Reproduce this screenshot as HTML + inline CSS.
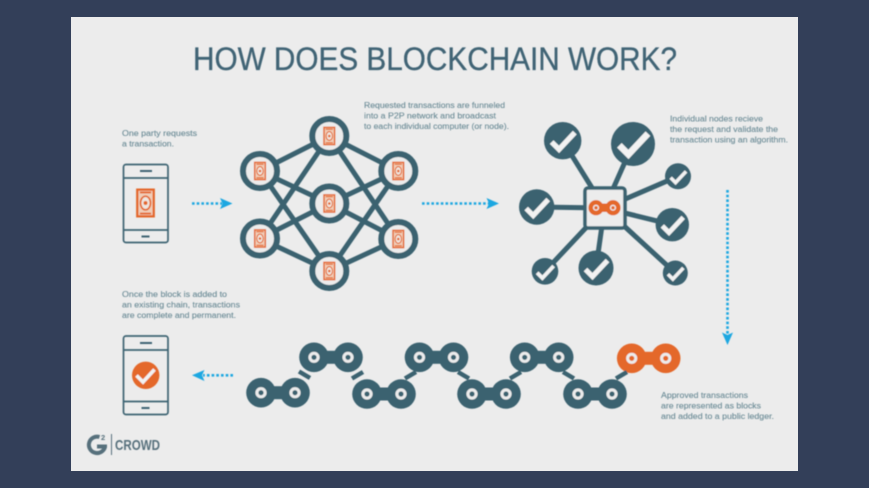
<!DOCTYPE html>
<html><head><meta charset="utf-8"><style>
html,body{margin:0;padding:0;background:#333f59;width:869px;height:488px;overflow:hidden}
svg{display:block}
text{font-family:"Liberation Sans",sans-serif}
.t{font-size:8.6px;fill:#6b8b96;stroke:#6b8b96;stroke-width:.12}
</style></head><body>
<svg width="869" height="488" viewBox="0 0 869 488" xmlns="http://www.w3.org/2000/svg">
<defs>
<g id="bill"><rect x="-5.3" y="-8.6" width="10.6" height="17.2" fill="#f0cdb8" stroke="#e4682b" stroke-width="1.5"/><path d="M-3.6 -6.8H3.6M-3.6 6.8H3.6" stroke="#e4682b" stroke-width="1.2"/><ellipse rx="3.2" ry="4.4" fill="#efe6df" stroke="#e4682b" stroke-width="1.1"/><circle r="1.3" fill="#e4682b"/></g>
<path id="ck" d="M-10.5 1 L-3.5 8 L11.5 -8" fill="none" stroke="#f2f2f2" stroke-width="5"/>
<g id="lk"><circle cx="-17" r="14.8"/><circle cx="17" r="14.8"/><rect x="-17" y="-6.5" width="34" height="13"/></g>
<g id="hl"><circle cx="-17" r="4.1" fill="none" stroke="#ececec" stroke-width="3"/><circle cx="17" r="4.1" fill="none" stroke="#ececec" stroke-width="3"/></g>
<filter id="b" x="-5%" y="-5%" width="110%" height="110%"><feGaussianBlur stdDeviation="0.4"/></filter>
</defs>
<rect x="71" y="17" width="727" height="454" fill="#ececec"/>
<g filter="url(#b)">
<text x="193" y="70" font-size="32" fill="#3f6375" stroke="#3f6375" stroke-width=".3" textLength="484" lengthAdjust="spacingAndGlyphs">HOW DOES BLOCKCHAIN WORK?</text>

<text class="t" x="122" y="136" textLength="75" lengthAdjust="spacingAndGlyphs">One party requests</text>
<text class="t" x="122" y="146.5" textLength="52" lengthAdjust="spacingAndGlyphs">a transaction.</text>
<text class="t" x="364" y="108" textLength="141" lengthAdjust="spacingAndGlyphs">Requested transactions are funneled</text>
<text class="t" x="364" y="118.5" textLength="132" lengthAdjust="spacingAndGlyphs">into a P2P network and broadcast</text>
<text class="t" x="364" y="129" textLength="145" lengthAdjust="spacingAndGlyphs">to each individual computer (or node).</text>
<text class="t" x="670" y="121.5" textLength="93" lengthAdjust="spacingAndGlyphs">Individual nodes recieve</text>
<text class="t" x="670" y="132" textLength="108" lengthAdjust="spacingAndGlyphs">the request and validate the</text>
<text class="t" x="670" y="142.5" textLength="118" lengthAdjust="spacingAndGlyphs">transaction using an algorithm.</text>
<text class="t" x="122" y="297" textLength="105" lengthAdjust="spacingAndGlyphs">Once the block is added to</text>
<text class="t" x="122" y="307.5" textLength="118" lengthAdjust="spacingAndGlyphs">an existing chain,  transactions</text>
<text class="t" x="122" y="318" textLength="114" lengthAdjust="spacingAndGlyphs">are complete and permanent.</text>
<text class="t" x="661" y="398" textLength="87" lengthAdjust="spacingAndGlyphs">Approved transactions</text>
<text class="t" x="661" y="408.5" textLength="100" lengthAdjust="spacingAndGlyphs">are represented as blocks</text>
<text class="t" x="661" y="419" textLength="113" lengthAdjust="spacingAndGlyphs">and added to a public ledger.</text>

<!-- phones -->
<g fill="none" stroke="#3d6472" stroke-width="1.7">
<rect x="123.5" y="164.5" width="44.5" height="78" rx="2.5"/>
<path d="M123.5 178H168M123.5 230H168"/>
<path d="M140 171H152M141.5 236.5H149.5" stroke-width="2"/>
<rect x="123.5" y="336" width="44.5" height="78.5" rx="2.5"/>
<path d="M123.5 350H168M123.5 401.5H168"/>
<path d="M140 343H152M141.5 408H149.5" stroke-width="2"/>
</g>
<g transform="translate(145.5 203) scale(1.55)"><use href="#bill"/></g>

<circle cx="145.7" cy="375.3" r="13.7" fill="#e4682b"/>
<path d="M136.5 375.5 L143 382 L154.5 369.5" fill="none" stroke="#f2f2f2" stroke-width="3.6"/>

<!-- arrows -->
<g fill="none" stroke="#1ea7e1" stroke-width="2.6" stroke-dasharray="2.6 2.1">
<path d="M192 203.5H222"/><path d="M422 203.5H489"/><path d="M727.5 190V334"/><path d="M233 375.3H203"/>
</g>
<g fill="#1ea7e1">
<path d="M220 198L232.5 203.5L220 209L222.5 203.5Z"/>
<path d="M486.5 198L499 203.5L486.5 209L489 203.5Z"/>
<path d="M722 332.5L727.5 345L733 332.5L727.5 335Z"/>
<path d="M204.5 370L192 375.3L204.5 381L202 375.3Z"/>
</g>

<!-- network -->
<g stroke="#3a6270" stroke-width="5" fill="none">
<path d="M329.3 136L260 171M329.3 136L398.3 171M329.3 136L260 238.5M329.3 136L398.3 239M260 171L329.3 203.5M398.3 171L329.3 203.5M260 238.5L329.3 203.5M398.3 239L329.3 203.5M260 171L329.3 271M398.3 171L329.3 271M260 238.5L329.3 271M398.3 239L329.3 271"/>
</g>
<g fill="#ececec" stroke="#3a6270" stroke-width="6">
<circle cx="329.3" cy="136" r="17"/><circle cx="260" cy="171" r="17"/><circle cx="398.3" cy="171" r="17"/><circle cx="329.3" cy="203.5" r="17"/><circle cx="260" cy="238.5" r="17"/><circle cx="398.3" cy="239" r="17"/><circle cx="329.3" cy="271" r="17"/>
</g>
<use href="#bill" x="329.3" y="136"/><use href="#bill" x="260" y="171"/><use href="#bill" x="398.3" y="171"/><use href="#bill" x="329.3" y="203.5"/><use href="#bill" x="260" y="238.5"/><use href="#bill" x="398.3" y="239"/><use href="#bill" x="329.3" y="271"/>

<!-- hub -->
<g stroke="#3a6270" stroke-width="5" fill="none">
<path d="M604.5 208L562.7 140.7M604.5 208L633 144M604.5 208L678 176.3M604.5 208L672.3 224.7M604.5 208L675.3 273M604.5 208L596 268M604.5 208L545 271.3M604.5 208L536.7 207"/>
</g>
<rect x="585" y="188" width="40" height="40" rx="3" fill="#ececec" stroke="#3a6270" stroke-width="3.5"/>
<g fill="#3a6270">
<circle cx="562.7" cy="140.7" r="18.7"/><circle cx="633" cy="144" r="22"/><circle cx="678" cy="176.3" r="13"/><circle cx="672.3" cy="224.7" r="16.7"/><circle cx="675.3" cy="273" r="12.5"/><circle cx="596" cy="268" r="17.5"/><circle cx="545" cy="271.3" r="13.3"/><circle cx="536.7" cy="207" r="17.7"/>
</g>
<use href="#ck" transform="translate(562.7 141) scale(1.05)"/>
<use href="#ck" transform="translate(633 144) scale(1.3)"/>
<use href="#ck" transform="translate(678 177) scale(.7)"/>
<use href="#ck" transform="translate(672.3 225) scale(.95)"/>
<use href="#ck" transform="translate(675.3 273.5) scale(.7)"/>
<use href="#ck" transform="translate(596 268.5) scale(1)"/>
<use href="#ck" transform="translate(545 272) scale(.75)"/>
<use href="#ck" transform="translate(536.7 207.5) scale(1)"/>
<g fill="#e4682b"><circle cx="596" cy="207.7" r="7.6"/><circle cx="613" cy="207.7" r="7.6"/><rect x="596" y="203.5" width="17" height="8.4"/></g>
<circle cx="596" cy="207.7" r="2.4" fill="none" stroke="#ececec" stroke-width="1.3"/><circle cx="613" cy="207.7" r="2.4" fill="none" stroke="#ececec" stroke-width="1.3"/>

<!-- chain -->
<g fill="#3a6270">
<use href="#lk" x="278" y="392.7"/><use href="#lk" x="331" y="357.3"/>
<use href="#lk" x="384" y="394"/><use href="#lk" x="436.5" y="357.3"/>
<use href="#lk" x="489" y="394"/><use href="#lk" x="541.7" y="357.3"/>
<use href="#lk" x="595" y="394"/>
</g>
<g fill="#e4682b"><use href="#lk" x="648.7" y="358.3"/></g>
<use href="#hl" x="278" y="392.7"/><use href="#hl" x="331" y="357.3"/><use href="#hl" x="384" y="394"/><use href="#hl" x="436.5" y="357.3"/><use href="#hl" x="489" y="394"/><use href="#hl" x="541.7" y="357.3"/><use href="#hl" x="595" y="394"/><use href="#hl" x="648.7" y="358.3"/>
<g stroke="#3a6270" stroke-width="4.5" fill="none">
<path d="M299 371.5L310 378M363 372L352 378.5M405 378.5L416 372M458 372L469 378.5M510 378.5L521 372M563 372L574 378.5M616 378.5L627 372"/>
</g>

<!-- logo -->
<path d="M99.5 437A8.2 8.2 0 1 0 105 447V446.5H97" fill="none" stroke="#56707c" stroke-width="4"/>
<text x="101" y="440" font-size="7.5" font-weight="bold" fill="#56707c">2</text>
<rect x="111" y="434" width="1" height="21" fill="#56707c"/>
<text x="115" y="450" font-size="15" font-weight="bold" fill="#56707c" textLength="45" lengthAdjust="spacingAndGlyphs">CROWD</text>
</g>
</svg>
</body></html>
